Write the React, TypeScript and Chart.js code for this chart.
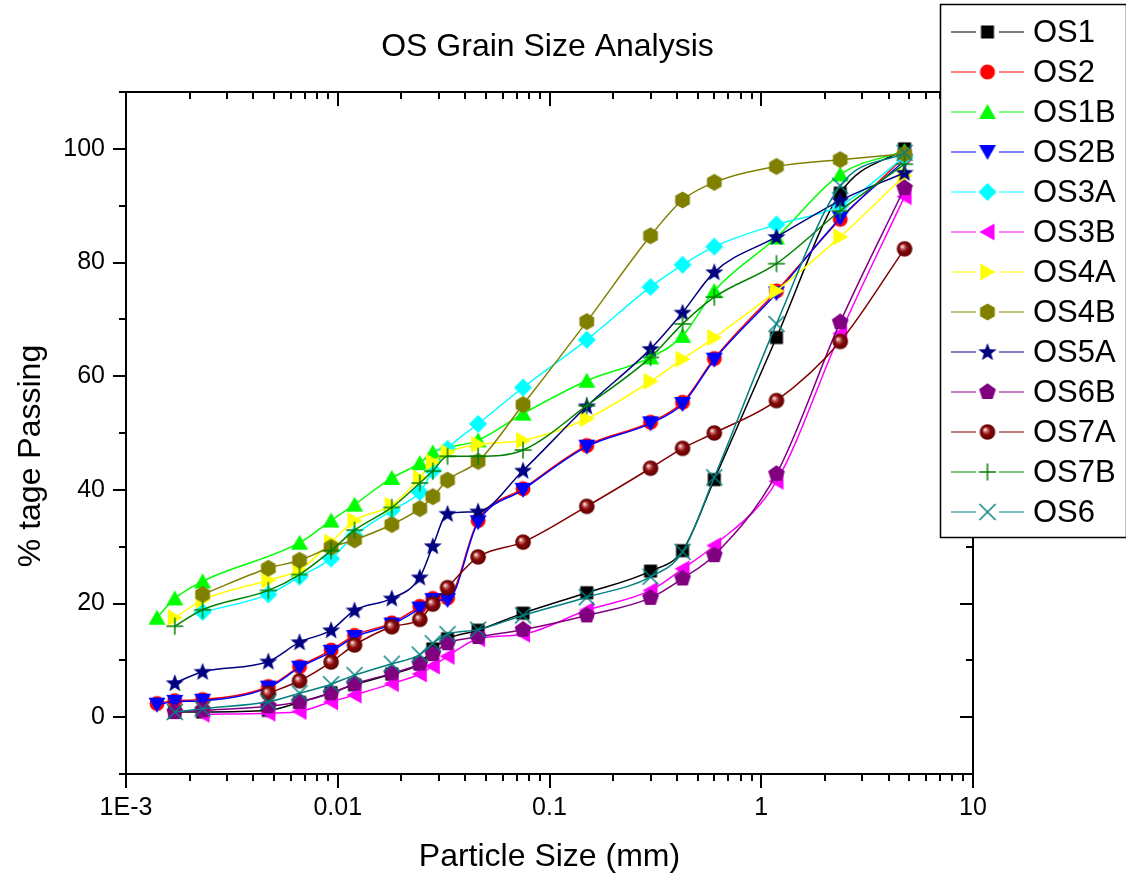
import React, { useEffect, useRef } from 'react';
import { Chart, registerables } from 'chart.js';
Chart.register(...registerables);

const FONT = '"Liberation Sans", Arial, Helvetica, sans-serif';

const titleText = 'OS Grain Size Analysis';
const xTitle = 'Particle Size (mm)';
const yTitle = '% tage Passing';
const xMajorTicks = [0.001, 0.01, 0.1, 1, 10];
const xTickLabels = ['1E-3', '0.01', '0.1', '1', '10'];
const yMajorTicks = [0, 20, 40, 60, 80, 100];
const yTickLabels = ['0', '20', '40', '60', '80', '100'];
const yMinorTicks = [-10, 10, 30, 50, 70, 90, 110];

const seriesNames = ['OS1', 'OS2', 'OS1B', 'OS2B', 'OS3A', 'OS3B', 'OS4A', 'OS4B', 'OS5A', 'OS6B', 'OS7A', 'OS7B', 'OS6'];

const os1X = [0.0017, 0.0023, 0.0047, 0.0066, 0.0093, 0.012, 0.018, 0.0244, 0.0281, 0.033, 0.046, 0.075, 0.15, 0.3, 0.425, 0.6, 1.18, 2.36, 4.75];
const os1Y = [0.9, 0.9, 1.2, 2.6, 4.3, 5.7, 7.6, 9.4, 12.0, 13.8, 15.3, 18.3, 21.9, 25.7, 29.3, 41.8, 66.8, 92.2, 100];

const os2X = [0.0014, 0.0017, 0.0023, 0.0047, 0.0066, 0.0093, 0.012, 0.018, 0.0244, 0.0281, 0.033, 0.046, 0.075, 0.15, 0.3, 0.425, 0.6, 1.18, 2.36, 4.75];
const os2Y = [2.4, 2.9, 3.1, 5.4, 8.9, 11.8, 14.4, 16.6, 19.5, 20.9, 21.0, 34.6, 40.2, 47.8, 51.9, 55.4, 63.1, 75.0, 87.6, 98.6];

const os1bX = [0.0014, 0.0017, 0.0023, 0.0066, 0.0093, 0.012, 0.018, 0.0244, 0.0281, 0.046, 0.075, 0.15, 0.3, 0.425, 0.6, 1.18, 2.36, 4.75];
const os1bY = [17.5, 20.9, 23.9, 30.7, 34.6, 37.4, 42.1, 44.7, 46.6, 48.7, 53.4, 59.2, 63.3, 67.1, 75.0, 84.4, 95.5, 99.6];

const os2bX = [0.0014, 0.0017, 0.0023, 0.0047, 0.0066, 0.0093, 0.012, 0.018, 0.0244, 0.0281, 0.033, 0.046, 0.075, 0.15, 0.3, 0.425, 0.6, 1.18, 2.36, 4.75];
const os2bY = [2.2, 2.7, 2.9, 5.2, 8.7, 11.5, 14.1, 16.3, 19.1, 20.6, 20.6, 34.3, 40.0, 47.6, 51.7, 55.1, 62.9, 74.6, 87.8, 97.9];

const os3aX = [0.0023, 0.0047, 0.0066, 0.0093, 0.012, 0.018, 0.0244, 0.0281, 0.033, 0.046, 0.075, 0.15, 0.3, 0.425, 0.6, 1.18, 2.36, 4.75];
const os3aY = [18.5, 21.6, 24.7, 27.9, 32.0, 36.4, 39.6, 43.4, 47.2, 51.6, 58.0, 66.4, 75.7, 79.6, 82.8, 86.7, 90.0, 98.6];

const os3bX = [0.0023, 0.0047, 0.0066, 0.0093, 0.012, 0.018, 0.0244, 0.0281, 0.033, 0.046, 0.075, 0.15, 0.3, 0.425, 0.6, 1.18, 2.36, 4.75];
const os3bY = [0.5, 0.7, 1.0, 2.7, 3.9, 5.9, 7.6, 9.0, 10.7, 13.8, 14.6, 18.8, 22.3, 26.1, 30.2, 41.5, 67.5, 91.6];

const os4aX = [0.0017, 0.0023, 0.0047, 0.0066, 0.0093, 0.012, 0.018, 0.0244, 0.0281, 0.033, 0.046, 0.075, 0.15, 0.3, 0.425, 0.6, 1.18, 2.36, 4.75];
const os4aY = [17.5, 20.6, 24.1, 25.9, 30.8, 34.6, 37.3, 42.1, 44.9, 46.6, 48.0, 48.7, 52.5, 59.1, 63.0, 66.8, 75.0, 84.5, 95.3];

const os4bX = [0.0023, 0.0047, 0.0066, 0.0093, 0.012, 0.018, 0.0244, 0.0281, 0.033, 0.046, 0.075, 0.15, 0.3, 0.425, 0.6, 1.18, 2.36, 4.75];
const os4bY = [21.6, 26.2, 27.6, 29.9, 31.2, 33.9, 36.7, 38.8, 41.7, 45.0, 55.0, 69.6, 84.7, 91.0, 94.1, 96.9, 98.1, 99.1];

const os5aX = [0.0017, 0.0023, 0.0047, 0.0066, 0.0093, 0.012, 0.018, 0.0244, 0.0281, 0.033, 0.046, 0.075, 0.15, 0.3, 0.425, 0.6, 1.18, 2.36, 4.75];
const os5aY = [6.0, 8.0, 9.8, 13.2, 15.3, 18.8, 20.9, 24.6, 30.1, 35.8, 36.2, 43.4, 54.7, 64.8, 71.2, 78.3, 84.5, 90.9, 95.8];

const os6bX = [0.0017, 0.0023, 0.0047, 0.0066, 0.0093, 0.012, 0.018, 0.0244, 0.0281, 0.033, 0.046, 0.075, 0.15, 0.3, 0.425, 0.6, 1.18, 2.36, 4.75];
const os6bY = [0.9, 1.2, 1.9, 2.7, 4.2, 5.9, 7.7, 9.4, 11.1, 13.0, 14.1, 15.4, 17.9, 21.0, 24.4, 28.5, 42.8, 69.5, 93.1];

const os7aX = [0.0047, 0.0066, 0.0093, 0.012, 0.018, 0.0244, 0.0281, 0.033, 0.046, 0.075, 0.15, 0.3, 0.425, 0.6, 1.18, 2.36, 4.75];
const os7aY = [4.2, 6.4, 9.7, 12.7, 15.9, 17.2, 19.9, 22.8, 28.2, 30.8, 37.1, 43.8, 47.3, 50.0, 55.7, 66.1, 82.4];

const os7bX = [0.0017, 0.0023, 0.0047, 0.0066, 0.0093, 0.012, 0.018, 0.0244, 0.0281, 0.033, 0.046, 0.075, 0.15, 0.3, 0.425, 0.6, 1.18, 2.36, 4.75];
const os7bY = [16.0, 18.9, 22.3, 25.1, 29.3, 32.9, 36.9, 41.2, 43.3, 45.9, 45.9, 47.0, 54.8, 63.3, 69.2, 73.9, 79.8, 89.1, 97.3];

const os6X = [0.0017, 0.0023, 0.0047, 0.0066, 0.0093, 0.012, 0.018, 0.0244, 0.0281, 0.033, 0.046, 0.075, 0.15, 0.3, 0.425, 0.6, 1.18, 2.36, 4.75];
const os6Y = [0.9, 1.5, 2.7, 4.2, 5.8, 7.4, 9.4, 11.0, 13.0, 14.6, 15.4, 17.9, 21.1, 24.7, 29.1, 42.2, 69.2, 93.5, 99.3];

const seriesX = [os1X, os2X, os1bX, os2bX, os3aX, os3bX, os4aX, os4bX, os5aX, os6bX, os7aX, os7bX, os6X];
const seriesY = [os1Y, os2Y, os1bY, os2bY, os3aY, os3bY, os4aY, os4bY, os5aY, os6bY, os7aY, os7bY, os6Y];

const seriesColors = ['#000000', '#FF0000', '#00FF00', '#0000FF', '#00FFFF', '#FF00FF', '#FFFF00', '#808000', '#000080', '#800080', '#800000', '#008000', '#008080'];
const seriesMarkers = ['square', 'circle', 'triUp', 'triDown', 'diamond', 'triLeft', 'triRight', 'hexagon', 'star', 'pentagon', 'sphere', 'plus', 'cross'];

function polygon(ctx: CanvasRenderingContext2D, pts: number[][]) {
  ctx.beginPath();
  pts.forEach((p, i) => (i === 0 ? ctx.moveTo(p[0], p[1]) : ctx.lineTo(p[0], p[1])));
  ctx.closePath();
  ctx.fill();
}

function regular(n: number, r: number, start: number, c: number) {
  const pts: number[][] = [];
  for (let i = 0; i < n; i++) {
    const a = start + (i * 2 * Math.PI) / n;
    pts.push([c + r * Math.cos(a), c + r * Math.sin(a)]);
  }
  return pts;
}

function makeMarker(kind: string, color: string): HTMLCanvasElement {
  const S = 24;
  const c = S / 2;
  const cv = document.createElement('canvas');
  cv.width = S;
  cv.height = S;
  const ctx = cv.getContext('2d')!;
  ctx.fillStyle = color;
  ctx.strokeStyle = color;
  switch (kind) {
    case 'square':
      ctx.fillRect(c - 6.5, c - 6.5, 13, 13);
      break;
    case 'circle':
      ctx.beginPath();
      ctx.arc(c, c, 7.5, 0, Math.PI * 2);
      ctx.fill();
      break;
    case 'triUp':
      polygon(ctx, [[c, c - 8], [c + 8.5, c + 7], [c - 8.5, c + 7]]);
      break;
    case 'triDown':
      polygon(ctx, [[c, c + 8], [c + 8.5, c - 7], [c - 8.5, c - 7]]);
      break;
    case 'triLeft':
      polygon(ctx, [[c - 8, c], [c + 7, c - 8.5], [c + 7, c + 8.5]]);
      break;
    case 'triRight':
      polygon(ctx, [[c + 8, c], [c - 7, c - 8.5], [c - 7, c + 8.5]]);
      break;
    case 'diamond':
      polygon(ctx, [[c, c - 9], [c + 9, c], [c, c + 9], [c - 9, c]]);
      break;
    case 'hexagon':
      polygon(ctx, regular(6, 8.5, -Math.PI / 2, c));
      break;
    case 'pentagon':
      polygon(ctx, regular(5, 8.8, -Math.PI / 2, c));
      break;
    case 'star': {
      const pts: number[][] = [];
      for (let i = 0; i < 10; i++) {
        const r = i % 2 === 0 ? 9.5 : 4;
        const a = -Math.PI / 2 + (i * Math.PI) / 5;
        pts.push([c + r * Math.cos(a), c + 0.5 + r * Math.sin(a)]);
      }
      polygon(ctx, pts);
      break;
    }
    case 'sphere': {
      const g = ctx.createRadialGradient(c - 2.5, c - 2.5, 0.3, c, c, 8);
      g.addColorStop(0, '#ffffff');
      g.addColorStop(0.18, '#d08080');
      g.addColorStop(0.5, '#8a0a0a');
      g.addColorStop(1, '#5a0000');
      ctx.fillStyle = g;
      ctx.beginPath();
      ctx.arc(c, c, 7.8, 0, Math.PI * 2);
      ctx.fill();
      break;
    }
    case 'plus':
      ctx.lineWidth = 1.5;
      ctx.beginPath();
      ctx.moveTo(c - 8.5, c);
      ctx.lineTo(c + 8.5, c);
      ctx.moveTo(c, c - 8.5);
      ctx.lineTo(c, c + 8.5);
      ctx.stroke();
      break;
    case 'cross':
      ctx.lineWidth = 1.5;
      ctx.beginPath();
      ctx.moveTo(c - 8, c - 8);
      ctx.lineTo(c + 8, c + 8);
      ctx.moveTo(c + 8, c - 8);
      ctx.lineTo(c - 8, c + 8);
      ctx.stroke();
      break;
  }
  return cv;
}

const decorPlugin = {
  id: 'decor',
  afterDraw(chart: any) {
    const ctx: CanvasRenderingContext2D = chart.ctx;
    const xs = chart.scales.x;
    const ys = chart.scales.y;
    const L = xs.left, R = xs.right, T = ys.top, B = ys.bottom;
    ctx.save();
    ctx.strokeStyle = '#000';
    ctx.fillStyle = '#000';
    ctx.lineWidth = 2;
    // frame
    ctx.beginPath();
    ctx.rect(L, T, R - L, B - T);
    ctx.stroke();
    // x ticks
    ctx.lineWidth = 2;
    ctx.beginPath();
    for (let e = -3; e <= 1; e++) {
      for (let k = 1; k <= 9; k++) {
        const v = k * Math.pow(10, e);
        if (v > 10.0001) continue;
        const px = Math.round(xs.getPixelForValue(v));
        const len = k === 1 ? 14 : 7;
        ctx.moveTo(px, B);
        ctx.lineTo(px, B + len);
        ctx.moveTo(px, T);
        ctx.lineTo(px, T + len);
      }
    }
    // y ticks
    const yt = yMajorTicks.map((v) => [v, 13]).concat(yMinorTicks.map((v) => [v, 7]));
    yt.forEach(([v, len]) => {
      const py = Math.round(ys.getPixelForValue(v));
      ctx.moveTo(L, py);
      ctx.lineTo(L - len, py);
      ctx.moveTo(R, py);
      ctx.lineTo(R - len, py);
    });
    ctx.stroke();
    // tick labels
    ctx.font = `25px ${FONT}`;
    ctx.textAlign = 'center';
    ctx.textBaseline = 'middle';
    xMajorTicks.forEach((v, i) => {
      ctx.fillText(xTickLabels[i], xs.getPixelForValue(v), B + 34);
    });
    ctx.textAlign = 'right';
    yMajorTicks.forEach((v, i) => {
      ctx.fillText(yTickLabels[i], L - 21, ys.getPixelForValue(v));
    });
    // titles
    ctx.textAlign = 'center';
    ctx.font = `32px ${FONT}`;
    ctx.fillText(titleText, (L + R) / 2 - 2, 47);
    ctx.fillText(xTitle, (L + R) / 2, 857);
    ctx.save();
    ctx.translate(31, (T + B) / 2 + 23);
    ctx.rotate(-Math.PI / 2);
    ctx.fillText(yTitle, 0, 0);
    ctx.restore();
    // legend
    const lx = 940.5, ly = 4.5, lw = 186, lh = 533;
    ctx.fillStyle = '#fff';
    ctx.fillRect(lx, ly, lw, lh);
    ctx.strokeStyle = '#000';
    ctx.lineWidth = 1.5;
    ctx.strokeRect(lx, ly, lw, lh);
    ctx.font = `31px ${FONT}`;
    ctx.textAlign = 'left';
    ctx.textBaseline = 'middle';
    chart.data.datasets.forEach((ds: any, i: number) => {
      const y = 32 + i * 40;
      ctx.strokeStyle = ds.borderColor;
      ctx.lineWidth = 1.2;
      ctx.beginPath();
      ctx.moveTo(951, y);
      ctx.lineTo(976, y);
      ctx.moveTo(999, y);
      ctx.lineTo(1024, y);
      ctx.stroke();
      const img = ds.pointStyle as HTMLCanvasElement;
      ctx.drawImage(img, 987.5 - img.width / 2, y - img.height / 2);
      ctx.fillStyle = '#000';
      ctx.fillText(ds.label, 1033, y + 1);
    });
    ctx.restore();
  },
};

export default function App() {
  const ref = useRef<HTMLCanvasElement>(null);
  useEffect(() => {
    const canvas = ref.current!;
    const datasets = seriesNames.map((name, i) => ({
      label: name,
      data: seriesX[i].map((x, j) => ({ x, y: seriesY[i][j] })),
      borderColor: seriesColors[i],
      backgroundColor: seriesColors[i],
      borderWidth: 1.5,
      pointStyle: makeMarker(seriesMarkers[i], seriesColors[i]),
      pointRadius: 8,
      cubicInterpolationMode: 'monotone' as const,
      order: seriesNames.length - i,
      clip: false as any,
    }));
    const chart = new Chart(canvas, {
      type: 'line',
      data: { datasets },
      options: {
        animation: false,
        responsive: false,
        devicePixelRatio: 1,
        parsing: false,
        layout: { padding: { left: 126, top: 92, right: 153, bottom: 104 } },
        plugins: { legend: { display: false }, tooltip: { enabled: false }, title: { display: false } },
        scales: {
          x: { type: 'logarithmic', min: 0.001, max: 10, display: false },
          y: { type: 'linear', min: -10, max: 110, display: false },
        },
        events: [],
      },
      plugins: [decorPlugin],
    });
    return () => chart.destroy();
  }, []);
  return (
    <div style={{ position: 'absolute', left: 0, top: 0, width: 1126, height: 878, background: '#fff' }}>
      <canvas ref={ref} width={1126} height={878} style={{ display: 'block' }} />
    </div>
  );
}
